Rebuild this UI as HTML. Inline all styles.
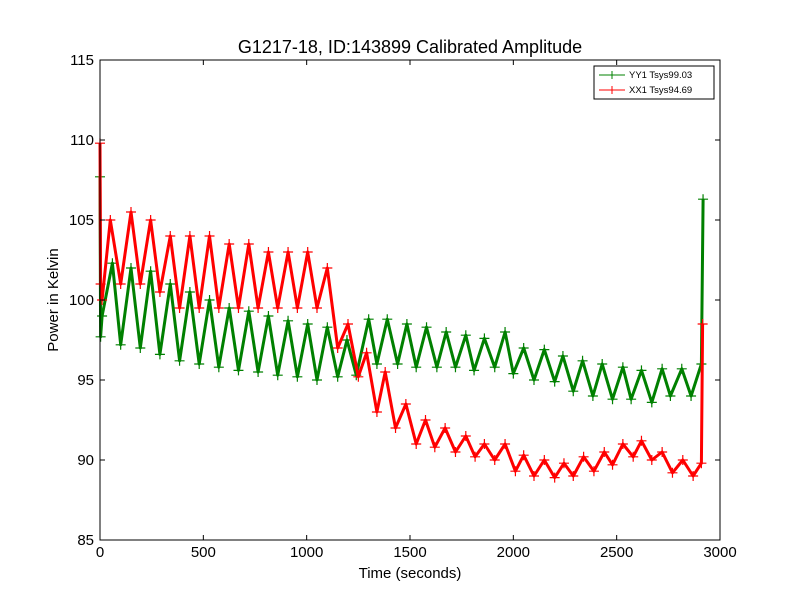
<!DOCTYPE html>
<html><head><meta charset="utf-8"><style>
body{margin:0;background:#fff;width:800px;height:600px;overflow:hidden;font-family:"Liberation Sans",sans-serif}
svg text{font-family:"Liberation Sans",sans-serif}
</style></head><body>
<svg id="chart" width="800" height="600">
<rect x="0" y="0" width="800" height="600" fill="#fff"/>
<text x="410" y="53" font-size="18" text-anchor="middle">G1217-18, ID:143899 Calibrated Amplitude</text>
<g id="plot"></g>
<g id="axes"></g>
<text x="410" y="578" font-size="15" text-anchor="middle">Time (seconds)</text>
<text x="58" y="300" font-size="15" text-anchor="middle" transform="rotate(-90 58 300)">Power in Kelvin</text>
<g>
<rect x="594" y="66" width="120" height="33" fill="#fff" stroke="#000" stroke-width="1"/>
<g>
<line x1="599" y1="75" x2="625" y2="75" stroke="green" stroke-width="1"/>
<path d="M608 75h8M612 71v8" stroke="green"/>
<text x="629" y="78" font-size="9.5">YY1 Tsys99.03</text></g>
<g>
<line x1="599" y1="90" x2="625" y2="90" stroke="red" stroke-width="1"/>
<path d="M608 90h8M612 86v8" stroke="red"/>
<text x="629" y="93" font-size="9.5">XX1 Tsys94.69</text></g>
</g>
</svg>
<script>
const greenT=[0,3,10,60,100,150,195,245,290,340,385,435,480,530,575,625,670,720,765,815,860,910,955,1005,1050,1100,1150,1195,1240,1300,1340,1390,1440,1485,1530,1580,1630,1675,1720,1770,1810,1860,1910,1960,2000,2050,2100,2150,2200,2240,2290,2335,2385,2430,2480,2530,2570,2620,2670,2720,2760,2815,2860,2910,2918];
const greenV=[107.7,97.7,99,102.3,97.2,102,97,101.8,96.6,101,96.2,100.5,96,100,95.8,99.5,95.6,99.3,95.5,99,95.3,98.7,95.2,98.5,95,98.3,95.2,97.5,95.3,98.8,96,98.8,96,98.5,95.8,98.3,95.8,98,95.8,97.8,95.6,97.6,95.8,98,95.4,97,95,96.9,94.9,96.5,94.3,96.2,94,96,93.8,95.8,93.8,95.6,93.6,95.7,94,95.7,94,96,106.3];
const redT=[0,3,10,50,100,150,195,245,290,340,385,435,480,530,575,625,670,720,765,815,860,910,955,1005,1050,1100,1150,1200,1250,1290,1340,1380,1430,1480,1530,1575,1620,1670,1720,1770,1815,1860,1910,1960,2010,2050,2100,2150,2200,2245,2290,2340,2390,2440,2480,2530,2580,2620,2670,2720,2770,2820,2870,2910,2916];
const redV=[109.8,101,100,105,101,105.5,101,105,100.5,104,99.5,104,99.5,104,99.5,103.5,99.5,103.5,99.5,103,99.5,103,99.5,103,99.5,102,97,98.5,95.2,96.7,93,95.5,92,93.5,91,92.5,90.8,92,90.5,91.5,90.2,91,90,91,89.3,90.3,89,90,88.9,89.8,89,90.2,89.3,90.5,89.7,91,90.2,91.2,90,90.5,89.2,90,89,89.8,98.5];
const xTicks=[0,500,1000,1500,2000,2500,3000];
const yTicks=[85,90,95,100,105,110,115];
const X=v=>100+v/3000*620, Y=v=>540-(v-85)/30*480;
const NS="http://www.w3.org/2000/svg";
const plot=document.getElementById('plot'), axes=document.getElementById('axes');
function mk(tag,attrs,parent){const e=document.createElementNS(NS,tag);for(const k in attrs)e.setAttribute(k,attrs[k]);parent.appendChild(e);return e;}
function series(ts,vs,col,name){
  const g=mk('g',{},plot);
  
  
  const pts=ts.map((t,i)=>X(t).toFixed(1)+','+Y(vs[i]).toFixed(1)).join(' ');
  mk('polyline',{points:pts,fill:'none',stroke:col,'stroke-width':3,'stroke-linejoin':'round'},g);
  mk('polyline',{points:pts,fill:'none',stroke:col,'stroke-width':1},g);
  let d='';ts.forEach((t,i)=>{const x=X(t),y=Y(vs[i]);d+=`M${x-5} ${y}h10M${x} ${y-5}v10`;});
  mk('path',{d:d,stroke:col,'stroke-width':1.2},g);
}
series(greenT,greenV,'green','series-yy1');
series(redT,redV,'red','series-xx1');
const frame=mk('rect',{x:100,y:60,width:620,height:480,fill:'none',stroke:'#000','stroke-width':1},axes);


xTicks.forEach(t=>{const x=X(t);
  mk('line',{x1:x,y1:540,x2:x,y2:535,stroke:'#000'},axes);
  mk('line',{x1:x,y1:60,x2:x,y2:65,stroke:'#000'},axes);
  const tx=mk('text',{x:x,y:557,'font-size':15,'text-anchor':'middle'},axes);tx.textContent=t;
  
  
});
yTicks.forEach(t=>{const y=Y(t);
  mk('line',{x1:100,y1:y,x2:105,y2:y,stroke:'#000'},axes);
  mk('line',{x1:720,y1:y,x2:715,y2:y,stroke:'#000'},axes);
  const tx=mk('text',{x:94,y:y+5,'font-size':15,'text-anchor':'end'},axes);tx.textContent=t;
  
  
});
</script>
</body></html>
